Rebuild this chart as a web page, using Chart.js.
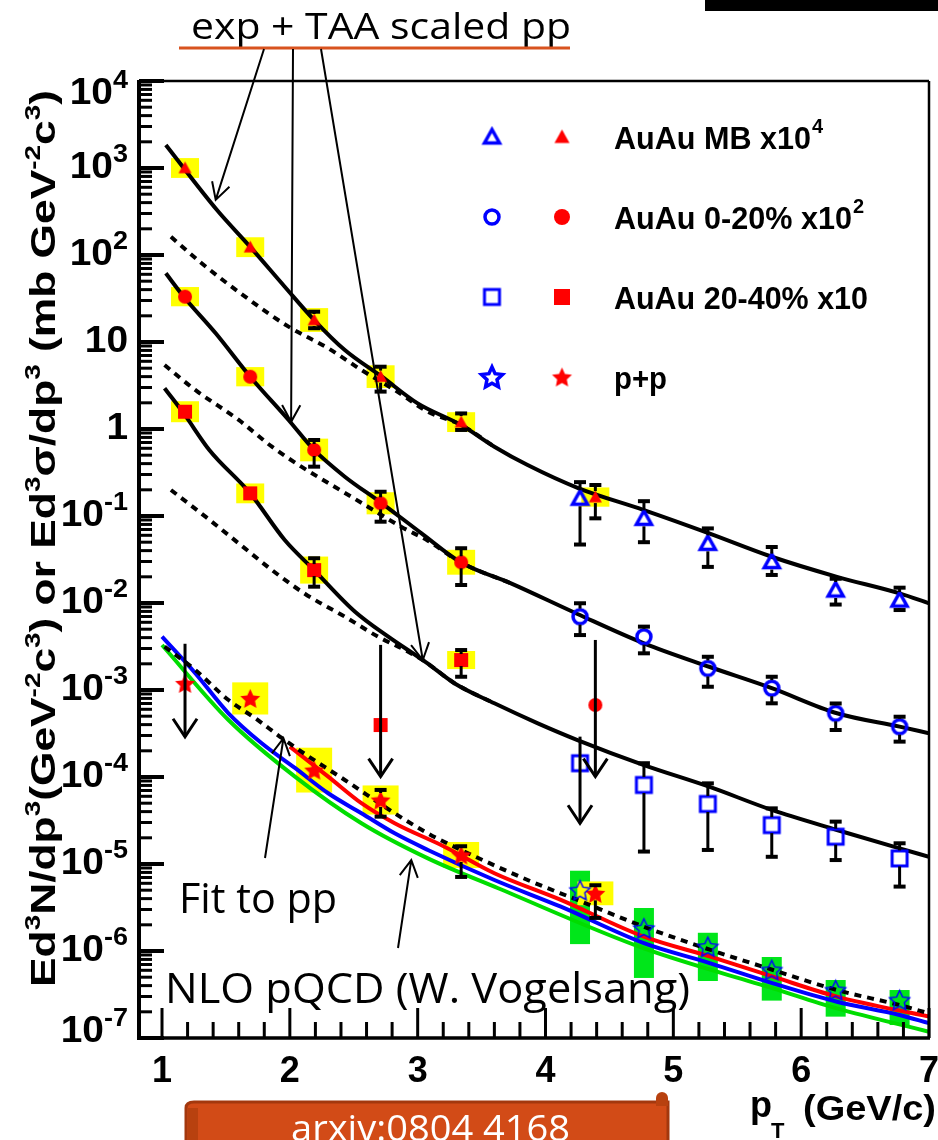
<!DOCTYPE html>
<html>
<head>
<meta charset="utf-8">
<script src="https://cdn.jsdelivr.net/npm/chart.js@4.4.1/dist/chart.umd.min.js"></script>
<style>
  html, body { margin: 0; padding: 0; background: #fff; }
  #wrap { position: relative; width: 938px; height: 1140px; }
</style>
</head>
<body>
<div id="wrap"><canvas id="spectra" width="938" height="1140"></canvas></div>
<script>
// ---- data ----
// pT of the internal conversion (red) and calorimeter (blue) points
const ptConv = [1.18, 1.69, 2.19, 2.71, 3.34, 4.39];
const ptCalo = [4.27, 4.77, 5.27, 5.77, 6.27, 6.77];

// AuAu MB x10^4
const mbConv = [1000, 123, 17.9, 4.0, 1.2, 0.165];
const mbConvLo = [null, null, 14.4, 2.69, 0.975, 0.094];
const mbConvHi = [null, null, 22.3, 5.2, 1.51, 0.227];
const mbConvSys = [1.3, 1.3, 1.37, 1.35, 1.3, 1.29];
const mbCalo = [0.16, 0.094, 0.0485, 0.0299, 0.0141, 0.0108];
const mbCaloLo = [0.047, 0.050, 0.026, 0.021, 0.0096, 0.0083];
const mbCaloHi = [0.245, 0.148, 0.072, 0.044, 0.019, 0.015];

// AuAu 0-20% x10^2
const c0Conv = [33.2, 3.99, 0.574, 0.140, 0.0294, 6.73e-4];
const c0ConvLo = [null, null, 0.369, 0.086, 0.0161, null];
const c0ConvHi = [null, null, 0.748, 0.19, 0.0426, null];
const c0ConvSys = [1.29, 1.29, 1.35, 1.34, 1.39, null];
const c0ConvLimTop = [null, null, null, null, null, 3.76e-3];
const c0ConvLimTip = [null, null, null, null, null, 1.01e-4];
const c0Calo = [0.00697, 0.0041, 0.00177, 0.00105, 5.4e-4, 3.79e-4];
const c0CaloLo = [0.00428, 0.00264, 0.00109, 7.03e-4, 3.47e-4, 2.55e-4];
const c0CaloHi = [0.00993, 0.00535, 0.00241, 0.00142, 7.0e-4, 4.93e-4];

// AuAu 20-40% x10
const c4Conv = [1.58, 0.182, 0.0239, 3.96e-4, 0.00221, null];
const c4ConvLo = [null, null, 0.0154, null, 0.00142, null];
const c4ConvHi = [null, null, 0.0327, null, 0.00288, null];
const c4ConvSys = [1.32, 1.3, 1.43, null, 1.27, null];
const c4ConvLimTop = [null, null, null, 3.3e-3, null, null];
const c4ConvLimTip = [null, null, null, 1.01e-4, null, null];
const c4Calo = [1.44e-4, 8.1e-5, 4.9e-5, 2.8e-5, 2.06e-5, 1.16e-5];
const c4CaloLo = [null, 1.39e-5, 1.45e-5, 1.21e-5, 1.11e-5, 5.5e-6];
const c4CaloHi = [null, 1.44e-4, 8.45e-5, 4.36e-5, 3.07e-5, 1.73e-5];
const c4CaloLimTop = [2.91e-4, null, null, null, null, null];
const c4CaloLimTip = [2.94e-5, null, null, null, null, null];

// p+p
const ppConv = [1.19e-3, 8.0e-4, 1.20e-4, 5.44e-5, 1.27e-5, 4.6e-6];
const ppConvLo = [null, null, null, 3.5e-5, 7.1e-6, 2.4e-6];
const ppConvHi = [null, null, null, 7.1e-5, 1.6e-5, 5.7e-6];
const ppConvSys = [null, 1.53, 1.81, 1.47, 1.41, 1.37];
const ppConvLimTop = [3.4e-3, null, null, null, null, null];
const ppConvLimTip = [2.9e-4, null, null, null, null, null];
const ppCalo = [5.0e-6, 1.82e-6, 1.12e-6, 6.05e-7, 3.56e-7, 2.73e-7];
const ppCaloSysLo = [1.2e-6, 4.9e-7, 4.52e-7, 2.69e-7, 1.76e-7, 1.41e-7];
const ppCaloSysHi = [8.37e-6, 3.12e-6, 1.62e-6, 8.53e-7, 4.64e-7, 3.56e-7];

// exp + TAA scaled pp fits (solid) and TAA scaled pp (dashed)
const mbFitX = [1.03, 1.43, 1.69, 1.96, 2.19, 2.43, 2.72, 3.00, 3.34, 3.60, 3.86, 4.26, 4.77, 5.28, 5.77, 6.28, 6.77, 7.0];
const mbFitY = [1838, 329, 124, 43.2, 17.9, 8.09, 3.99, 1.97, 1.11, 0.626, 0.385, 0.208, 0.117, 0.0632, 0.034, 0.02, 0.0129, 0.0099];
const mbPpX = [1.07, 1.31, 1.65, 1.99, 2.30, 2.56, 2.82, 3.08, 3.34, 3.60];
const mbPpY = [162, 80.3, 33.2, 15.0, 8.47, 4.77, 2.81, 1.58, 1.11, 0.626];
const c0FitX = [1.03, 1.17, 1.42, 1.69, 1.99, 2.19, 2.43, 2.72, 3.03, 3.34, 3.73, 4.25, 4.77, 5.28, 5.77, 6.28, 6.77, 7.0];
const c0FitY = [61.6, 33.2, 12.6, 3.99, 1.27, 0.574, 0.283, 0.14, 0.0632, 0.0292, 0.0168, 0.00748, 0.00344, 0.00185, 0.00105, 5.4e-4, 3.79e-4, 3.18e-4];
const c0PpX = [1.02, 1.26, 1.60, 1.86, 2.09, 2.35, 2.61, 2.87, 3.08, 3.34, 3.73];
const c0PpY = [5.44, 2.81, 1.27, 0.626, 0.369, 0.217, 0.128, 0.0753, 0.052, 0.0292, 0.0168];
const c4FitX = [1.02, 1.17, 1.37, 1.69, 1.96, 2.19, 2.51, 2.77, 3.06, 3.29, 3.60, 3.94, 4.25, 4.77, 5.28, 5.77, 6.28, 6.77, 7.0];
const c4FitY = [2.94, 1.51, 0.574, 0.182, 0.053, 0.0239, 0.00794, 0.0041, 0.00211, 0.00119, 7.03e-4, 4.14e-4, 2.66e-4, 1.37e-4, 7.74e-5, 4.18e-5, 2.46e-5, 1.51e-5, 1.21e-5];
const c4PpX = [1.07, 1.34, 1.60, 1.86, 2.12, 2.43, 2.69, 2.90, 3.06, 3.29, 3.60];
const c4PpY = [0.199, 0.0982, 0.0485, 0.0239, 0.0127, 0.00697, 0.0041, 0.00288, 0.00211, 0.00119, 7.03e-4];

// fit to p+p (dashed) and NLO pQCD curves
const ppFitX = [1.02, 1.26, 1.52, 1.73, 1.94, 2.15, 2.43, 2.82, 3.08, 3.34, 3.86, 4.25, 4.77, 5.29, 5.78, 6.28, 6.77, 7.0];
const ppFitY = [3.15e-3, 1.70e-3, 7.67e-4, 4.73e-4, 2.79e-4, 1.71e-4, 9.24e-5, 3.83e-5, 2.25e-5, 1.45e-5, 6.55e-6, 3.86e-6, 1.90e-6, 1.03e-6, 6.05e-7, 3.56e-7, 2.39e-7, 1.92e-7];
const nloBlueX = [1.0, 1.26, 1.52, 1.78, 2.04, 2.30, 2.56, 2.82, 3.08, 3.60, 4.12, 4.77, 5.29, 5.78, 6.28, 6.77, 7.0];
const nloBlueY = [4.10e-3, 1.56e-3, 5.40e-4, 2.44e-4, 1.27e-4, 6.50e-5, 3.83e-5, 2.25e-5, 1.45e-5, 6.55e-6, 3.23e-6, 1.23e-6, 7.22e-7, 4.25e-7, 2.61e-7, 1.84e-7, 1.48e-7];
const nloGreenX = [1.0, 1.52, 2.04, 2.56, 3.08, 3.63, 4.77, 5.78, 6.28, 7.0];
const nloGreenY = [3.29e-3, 4.52e-4, 1.01e-4, 2.94e-5, 1.16e-5, 5.26e-6, 1.07e-6, 3.72e-7, 2.19e-7, 1.18e-7];
const nloRedX = [2.0, 2.30, 2.56, 2.82, 3.21, 3.60, 4.12, 4.77, 5.29, 5.78, 6.28, 7.0];
const nloRedY = [2.23e-4, 1.01e-4, 5.0e-5, 2.94e-5, 1.58e-5, 7.82e-6, 3.86e-6, 1.46e-6, 8.61e-7, 5.07e-7, 2.99e-7, 1.76e-7];

// axes
const xTickValues = [1, 2, 3, 4, 5, 6, 7];
const yTickValues = [1e-7, 1e-6, 1e-5, 1e-4, 1e-3, 1e-2, 1e-1, 1, 10, 1e2, 1e3, 1e4];
const yTickText = [['10', '-7'], ['10', '-6'], ['10', '-5'], ['10', '-4'], ['10', '-3'], ['10', '-2'], ['10', '-1'], ['1', ''], ['10', ''], ['10', '2'], ['10', '3'], ['10', '4']];

const legendRows = [
  ['AuAu MB x10', '4'],
  ['AuAu 0-20% x10', '2'],
  ['AuAu 20-40% x10', ''],
  ['p+p', '']
];

// ---- styling helpers ----
const BLUE = '#0000ff', RED = '#ff0000', YELLOW = '#ffff00', GREEN = '#00e61a';
const AXIS_FONT = '"Liberation Sans", Arial, sans-serif';
const NOTE_FONT = '"Open Sans", "Noto Sans", sans-serif';

function starPath(g, cx, cy, R, r) {
  g.beginPath();
  for (let i = 0; i < 10; i++) {
    const a = -Math.PI / 2 + i * Math.PI / 5;
    const rr = i % 2 ? r : R;
    g.lineTo(cx + rr * Math.cos(a), cy + rr * Math.sin(a));
  }
  g.closePath();
}

function marker(shape, size, fill, lw) {
  const c = document.createElement('canvas');
  c.width = c.height = size + 8;
  const g = c.getContext('2d');
  const m = c.width / 2, h = size / 2;
  g.beginPath();
  if (shape === 'tri') {
    g.moveTo(m, m - h); g.lineTo(m + h, m + h * 0.8); g.lineTo(m - h, m + h * 0.8); g.closePath();
  } else if (shape === 'circ') {
    g.arc(m, m, h, 0, Math.PI * 2);
  } else if (shape === 'sq') {
    g.rect(m - h, m - h, size, size);
  } else {
    starPath(g, m, m + 1, h, h * 0.48);
  }
  if (fill) { g.fillStyle = fill; g.fill(); }
  if (lw) { g.lineJoin = 'miter'; g.lineWidth = lw; g.strokeStyle = BLUE; g.stroke(); }
  return c;
}

const mk = {
  triOpen: marker('tri', 15, null, 3.5),
  triFill: marker('tri', 13, RED),
  circOpen: marker('circ', 14, null, 3.5),
  circFill: marker('circ', 14, RED),
  sqOpen: marker('sq', 15, null, 3),
  sqFill: marker('sq', 14, RED),
  starOpen: marker('star', 21, null, 1.5),
  starFill: marker('star', 21, RED),
  starOpenBig: marker('star', 22, null, 3.5),
  triFillBig: marker('tri', 15, RED),
  circFillBig: marker('circ', 16, RED),
  sqFillBig: marker('sq', 16, RED)
};

const pts = (xs, ys) => xs.map((x, i) => ({ x, y: ys[i] }));

function markerSet(label, xs, ys, style, extra) {
  return Object.assign({
    label, data: pts(xs, ys), showLine: false, pointStyle: style,
    pointRadius: 8, pointHoverRadius: 8, order: 0
  }, extra);
}

function curveSet(label, xs, ys, color, dash) {
  return {
    label, data: pts(xs, ys), showLine: true, borderColor: color, borderWidth: 4,
    borderDash: dash || [], pointRadius: 0, cubicInterpolationMode: 'monotone',
    fill: false, order: 1
  };
}

// ---- plugins ----
function vline(ctx, x, y1, y2, w) {
  ctx.lineWidth = w; ctx.beginPath(); ctx.moveTo(x, y1); ctx.lineTo(x, y2); ctx.stroke();
}
function hline(ctx, x1, x2, y, w) {
  ctx.lineWidth = w; ctx.beginPath(); ctx.moveTo(x1, y); ctx.lineTo(x2, y); ctx.stroke();
}

const sysBoxes = {
  id: 'sysBoxes',
  beforeDatasetsDraw(chart) {
    const { ctx, scales: { x, y } } = chart;
    ctx.save();
    chart.data.datasets.forEach(ds => {
      if (!ds.sysFactor && !ds.sysLo) return;
      ctx.fillStyle = ds.sysColor;
      ds.data.forEach((p, i) => {
        let lo, hi;
        if (ds.sysFactor) {
          const f = ds.sysFactor[i];
          if (!f || p.y == null) return;
          lo = p.y / f; hi = p.y * f;
        } else { lo = ds.sysLo[i]; hi = ds.sysHi[i]; }
        const px = x.getPixelForValue(p.x);
        const top = y.getPixelForValue(hi), bot = y.getPixelForValue(lo);
        ctx.fillRect(px - ds.sysHalfW, top, ds.sysHalfW * 2, bot - top);
      });
    });
    ctx.restore();
  }
};

const errorBars = {
  id: 'errorBars',
  afterDatasetsDraw(chart) {
    const { ctx, scales: { x, y } } = chart;
    ctx.save();
    ctx.strokeStyle = '#000';
    chart.data.datasets.forEach(ds => {
      ds.data.forEach((p, i) => {
        const px = x.getPixelForValue(p.x);
        if (ds.errLo && ds.errLo[i] != null) {
          const py = y.getPixelForValue(p.y);
          const gap = ds.errGap || 8;
          const top = y.getPixelForValue(ds.errHi[i]), bot = y.getPixelForValue(ds.errLo[i]);
          if (py - gap > top) vline(ctx, px, top, py - gap, 3);
          if (py + gap < bot) vline(ctx, px, py + gap, bot, 3);
          hline(ctx, px - 6, px + 6, top, 4);
          hline(ctx, px - 6, px + 6, bot, 4);
        }
        if (ds.limTop && ds.limTop[i] != null) {
          const top = y.getPixelForValue(ds.limTop[i]), tip = y.getPixelForValue(ds.limTip[i]);
          vline(ctx, px, top, tip, 3);
          ctx.lineWidth = 3;
          ctx.beginPath();
          ctx.moveTo(px - 12, tip - 18); ctx.lineTo(px, tip); ctx.lineTo(px + 12, tip - 18);
          ctx.stroke();
        }
      });
    });
    ctx.restore();
  }
};

function fitText(ctx, text, x, y, width, font) {
  ctx.save();
  ctx.font = font;
  const s = width / ctx.measureText(text).width;
  ctx.translate(x, y);
  ctx.scale(s, 1);
  ctx.textAlign = 'left';
  ctx.textBaseline = 'alphabetic';
  ctx.fillText(text, 0, 0);
  ctx.restore();
}

// text with superscripts, segs = [[text, isSup], ...]
function richWidth(ctx, segs, size) {
  let w = 0;
  segs.forEach(([t, sup]) => {
    ctx.font = `bold ${sup ? Math.round(size * 0.62) : size}px ${AXIS_FONT}`;
    w += ctx.measureText(t).width;
  });
  return w;
}
function drawRich(ctx, segs, size) {
  let cx = 0;
  segs.forEach(([t, sup]) => {
    ctx.font = `bold ${sup ? Math.round(size * 0.62) : size}px ${AXIS_FONT}`;
    ctx.fillText(t, cx, sup ? -size * 0.42 : 0);
    cx += ctx.measureText(t).width;
  });
}

function arrowTo(ctx, x0, y0, x1, y1) {
  const a = Math.atan2(y0 - y1, x0 - x1);
  ctx.beginPath();
  ctx.moveTo(x0, y0); ctx.lineTo(x1, y1);
  ctx.moveTo(x1 + 19 * Math.cos(a - 0.5), y1 + 19 * Math.sin(a - 0.5));
  ctx.lineTo(x1, y1);
  ctx.lineTo(x1 + 19 * Math.cos(a + 0.5), y1 + 19 * Math.sin(a + 0.5));
  ctx.stroke();
}

const frame = {
  id: 'frame',
  afterDraw(chart) {
    const { ctx, chartArea: a, scales: { x, y } } = chart;
    ctx.save();
    ctx.strokeStyle = '#000';
    ctx.fillStyle = '#000';

    // y ticks on the inside of the frame
    for (let d = -7; d <= 4; d++) {
      hline(ctx, a.left, a.left + 25, y.getPixelForValue(Math.pow(10, d)), 4);
      if (d < 4) {
        for (let k = 2; k <= 9; k++) hline(ctx, a.left, a.left + 13, y.getPixelForValue(k * Math.pow(10, d)), 3);
      }
    }
    // x ticks every 0.2
    for (let i = 5; i <= 35; i++) {
      const px = x.getPixelForValue(i / 5);
      vline(ctx, px, a.bottom, a.bottom - (i % 5 === 0 ? 30 : 16), 3);
    }
    // frame
    hline(ctx, a.left, a.right, a.top, 2.5);
    vline(ctx, a.right, a.top, a.bottom, 2.5);
    vline(ctx, a.left, a.top - 1, a.bottom + 2, 4);
    hline(ctx, a.left, a.right + 1, a.bottom, 3.5);

    // y tick labels with exponents (slightly stretched, like the original)
    const size = 36, stretch = 1.08;
    ctx.textBaseline = 'middle';
    yTickValues.forEach((v, i) => {
      const [base, exp] = yTickText[i];
      let py = y.getPixelForValue(v);
      if (i === yTickValues.length - 1) py += 13;
      if (i === 0) py -= 6;
      ctx.font = `bold ${size}px ${AXIS_FONT}`;
      const wb = ctx.measureText(base).width;
      ctx.font = `bold 25px ${AXIS_FONT}`;
      const we = exp ? ctx.measureText(exp).width : 0;
      ctx.save();
      ctx.translate(128, py);
      ctx.scale(stretch, 1);
      const x0 = -wb - we;
      ctx.font = `bold ${size}px ${AXIS_FONT}`;
      ctx.fillText(base, x0, 0);
      if (exp) { ctx.font = `bold 25px ${AXIS_FONT}`; ctx.fillText(exp, x0 + wb, -13); }
      ctx.restore();
    });

    // y axis title
    ctx.textBaseline = 'alphabetic';
    const ySegs = [['Ed', 0], ['3', 1], ['N/dp', 0], ['3', 1], ['(GeV', 0], ['-2', 1], ['c', 0], ['3', 1],
      [') or Ed', 0], ['3', 1], ['\u03c3/dp', 0], ['3', 1], [' (mb GeV', 0], ['-2', 1], ['c', 0], ['3', 1], [')', 0]];
    ctx.save();
    ctx.translate(55, 987);
    ctx.rotate(-Math.PI / 2);
    const tw = richWidth(ctx, ySegs, 35);
    ctx.scale(897 / tw, 1);
    drawRich(ctx, ySegs, 35);
    ctx.restore();

    // x axis title
    ctx.font = `bold 36px ${AXIS_FONT}`;
    ctx.fillText('p', 750, 1117);
    ctx.font = `bold 22px ${AXIS_FONT}`;
    ctx.fillText('T', 771, 1138);
    fitText(ctx, '(GeV/c)', 803, 1120, 133, `bold 35px ${AXIS_FONT}`);

    // legend
    const legendMarks = [[mk.triOpen, mk.triFillBig], [mk.circOpen, mk.circFillBig], [mk.sqOpen, mk.sqFillBig], [mk.starOpenBig, mk.starFill]];
    const legendWidths = [197, 238, 254, 53];
    legendRows.forEach(([txt, sup], i) => {
      const ly = 137 + i * 80;
      const [mo, mf] = legendMarks[i];
      ctx.drawImage(mo, 492 - mo.width / 2, ly - mo.height / 2);
      ctx.drawImage(mf, 562 - mf.width / 2, ly - mf.height / 2);
      fitText(ctx, txt, 614, ly + 12, legendWidths[i], `bold 32px ${AXIS_FONT}`);
      if (sup) {
        ctx.font = `bold 20px ${AXIS_FONT}`;
        ctx.fillText(sup, 614 + legendWidths[i] + 1, ly - 4);
      }
    });

    // annotations
    ctx.fillStyle = '#000';
    fitText(ctx, 'exp + TAA scaled pp', 191, 39, 380, `36px ${NOTE_FONT}`);
    ctx.strokeStyle = '#d8531f';
    hline(ctx, 179, 570, 48, 3);
    ctx.strokeStyle = '#000';
    ctx.lineWidth = 2;
    arrowTo(ctx, 264, 49, x.getPixelForValue(1.42), y.getPixelForValue(430));
    arrowTo(ctx, 293, 49, x.getPixelForValue(2.01), y.getPixelForValue(1.21));
    arrowTo(ctx, 321, 49, x.getPixelForValue(3.04), y.getPixelForValue(2.21e-3));

    fitText(ctx, 'Fit to pp', 179, 913, 158, `42px ${NOTE_FONT}`);
    arrowTo(ctx, 265, 858, x.getPixelForValue(1.95), y.getPixelForValue(2.79e-4));
    fitText(ctx, 'NLO pQCD (W. Vogelsang)', 165, 1003, 525, `42px ${NOTE_FONT}`);
    arrowTo(ctx, 398, 948, x.getPixelForValue(2.95), y.getPixelForValue(1.11e-5));

    // black bar at the top right
    ctx.fillStyle = '#000';
    ctx.fillRect(705, 0, 233, 11);

    // arxiv banner
    ctx.fillStyle = '#d24b17';
    ctx.strokeStyle = '#a3380e';
    ctx.lineWidth = 3;
    ctx.beginPath();
    ctx.moveTo(186, 1142); ctx.lineTo(186, 1108);
    ctx.quadraticCurveTo(186, 1102, 194, 1102);
    ctx.lineTo(668, 1102); ctx.lineTo(668, 1142);
    ctx.closePath();
    ctx.fill(); ctx.stroke();
    ctx.beginPath();
    ctx.arc(662, 1098, 6, Math.PI, 0);
    ctx.lineTo(668, 1106); ctx.lineTo(656, 1106); ctx.closePath();
    ctx.fillStyle = '#b8410f'; ctx.fill();
    ctx.fillStyle = '#b8410f';
    ctx.fillRect(188, 1108, 10, 34);
    ctx.fillStyle = '#fff';
    fitText(ctx, 'arxiv:0804 4168', 291, 1141, 279, `36px ${NOTE_FONT}`);
    ctx.restore();
  }
};

// ---- chart ----
const datasets = [
  markerSet('AuAu MB x10^4 (calo)', ptCalo, mbCalo, mk.triOpen, { errLo: mbCaloLo, errHi: mbCaloHi }),
  markerSet('AuAu MB x10^4', ptConv, mbConv, mk.triFill, { errLo: mbConvLo, errHi: mbConvHi, errGap: 6,
    sysFactor: mbConvSys, sysColor: YELLOW, sysHalfW: 14 }),
  markerSet('AuAu 0-20% x10^2 (calo)', ptCalo, c0Calo, mk.circOpen, { errLo: c0CaloLo, errHi: c0CaloHi }),
  markerSet('AuAu 0-20% x10^2', ptConv, c0Conv, mk.circFill, { errLo: c0ConvLo, errHi: c0ConvHi, errGap: 6,
    sysFactor: c0ConvSys, sysColor: YELLOW, sysHalfW: 14, limTop: c0ConvLimTop, limTip: c0ConvLimTip }),
  markerSet('AuAu 20-40% x10 (calo)', ptCalo, c4Calo, mk.sqOpen, { errLo: c4CaloLo, errHi: c4CaloHi,
    limTop: c4CaloLimTop, limTip: c4CaloLimTip }),
  markerSet('AuAu 20-40% x10', ptConv, c4Conv, mk.sqFill, { errLo: c4ConvLo, errHi: c4ConvHi, errGap: 6,
    sysFactor: c4ConvSys, sysColor: YELLOW, sysHalfW: 14, limTop: c4ConvLimTop, limTip: c4ConvLimTip }),
  markerSet('p+p (calo)', ptCalo, ppCalo, mk.starOpen, { sysLo: ppCaloSysLo, sysHi: ppCaloSysHi,
    sysColor: GREEN, sysHalfW: 10 }),
  markerSet('p+p', ptConv, ppConv, mk.starFill, { errLo: ppConvLo, errHi: ppConvHi, errGap: 7,
    sysFactor: ppConvSys, sysColor: YELLOW, sysHalfW: 18, limTop: ppConvLimTop, limTip: ppConvLimTip }),
  curveSet('MB exp + TAA pp', mbFitX, mbFitY, '#000'),
  curveSet('MB TAA pp', mbPpX, mbPpY, '#000', [7, 6]),
  curveSet('0-20% exp + TAA pp', c0FitX, c0FitY, '#000'),
  curveSet('0-20% TAA pp', c0PpX, c0PpY, '#000', [7, 6]),
  curveSet('20-40% exp + TAA pp', c4FitX, c4FitY, '#000'),
  curveSet('20-40% TAA pp', c4PpX, c4PpY, '#000', [7, 6]),
  curveSet('Fit to pp', ppFitX, ppFitY, '#000', [7, 6]),
  curveSet('NLO red', nloRedX, nloRedY, RED),
  curveSet('NLO blue', nloBlueX, nloBlueY, BLUE),
  curveSet('NLO green', nloGreenX, nloGreenY, '#00dd00')
];

new Chart(document.getElementById('spectra'), {
  type: 'scatter',
  data: { datasets },
  options: {
    responsive: false,
    animation: false,
    devicePixelRatio: 1,
    layout: { padding: { top: 81, right: 5, bottom: 0, left: 0 } },
    plugins: { legend: { display: false }, tooltip: { enabled: false } },
    scales: {
      x: {
        type: 'linear', min: 0.82, max: 7.0,
        afterBuildTicks: s => { s.ticks = xTickValues.map(v => ({ value: v })); },
        afterFit: s => { s.height = 102; s.paddingLeft = 0; s.paddingRight = 0; },
        ticks: { color: '#000', padding: 12, maxRotation: 0, autoSkip: false,
          font: { family: AXIS_FONT, weight: 'bold', size: 36 }, callback: v => String(v) },
        grid: { display: false, drawTicks: false },
        border: { display: false }
      },
      y: {
        type: 'logarithmic', min: 1e-7, max: 1e4,
        afterBuildTicks: s => { s.ticks = yTickValues.map(v => ({ value: v })); },
        afterFit: s => { s.width = 139; s.paddingTop = 0; s.paddingBottom = 0; },
        ticks: { display: false },
        grid: { display: false, drawTicks: false },
        border: { display: false }
      }
    }
  },
  plugins: [sysBoxes, errorBars, frame]
});
</script>
</body>
</html>
